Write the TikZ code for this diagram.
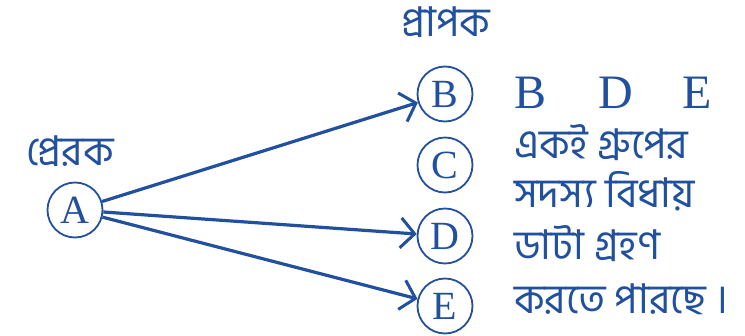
\documentclass[tikz,border=0pt]{standalone}
\usepackage{fontspec}
\setmainfont{Liberation Serif}
\newfontfamily\bn[Script=Bengali]{Hind Siliguri}
\usetikzlibrary{arrows.meta}
\definecolor{dblue}{RGB}{33,80,158}
\begin{document}
\begin{tikzpicture}[x=1pt,y=-1pt,
  nd/.style={circle,draw=dblue,line width=1.8pt,minimum size=55pt,inner sep=0pt,
    text=dblue,font=\fontsize{40}{40}\selectfont},
  bntext/.style={text=dblue,inner sep=0pt,anchor=base west,font=\bn\fontsize{41}{41}\selectfont},
  conn/.style={draw=dblue,line width=3.2pt,-{Straight Barb[length=14pt,width=30pt,line width=3pt]}}
]
\useasboundingbox (0,0) rectangle (745,335);
\node[nd] (A) at (75,210) {A};
\node[nd] (B) at (445,94) {B};
\node[nd] (C) at (445,165) {C};
\node[nd] (D) at (445,236) {D};
\node[nd] (E) at (445,306) {E};
\node[bntext,anchor=base] (rcv) at (446,36) {প্রাপক};
\node[bntext,anchor=base] (snd) at (70,165) {প্রেরক};
\node[text=dblue,inner sep=0pt,anchor=base west,font=\fontsize{48}{48}\selectfont] (bde) at (514,108) {B\hspace{52pt}D\hspace{50pt}E};
\node[bntext] (l1) at (514,158) {একই গ্রুপের};
\node[bntext] (l2) at (514,207) {সদস্য বিধায়};
\node[bntext] (l3) at (514,259) {ডাটা গ্রহণ};
\node[bntext] (l4) at (514,313) {করতে পারছে ।};
\draw[conn] (A) -- (B);
\draw[conn] (A) -- (D);
\draw[conn] (A) -- (E);
\end{tikzpicture}
\end{document}
